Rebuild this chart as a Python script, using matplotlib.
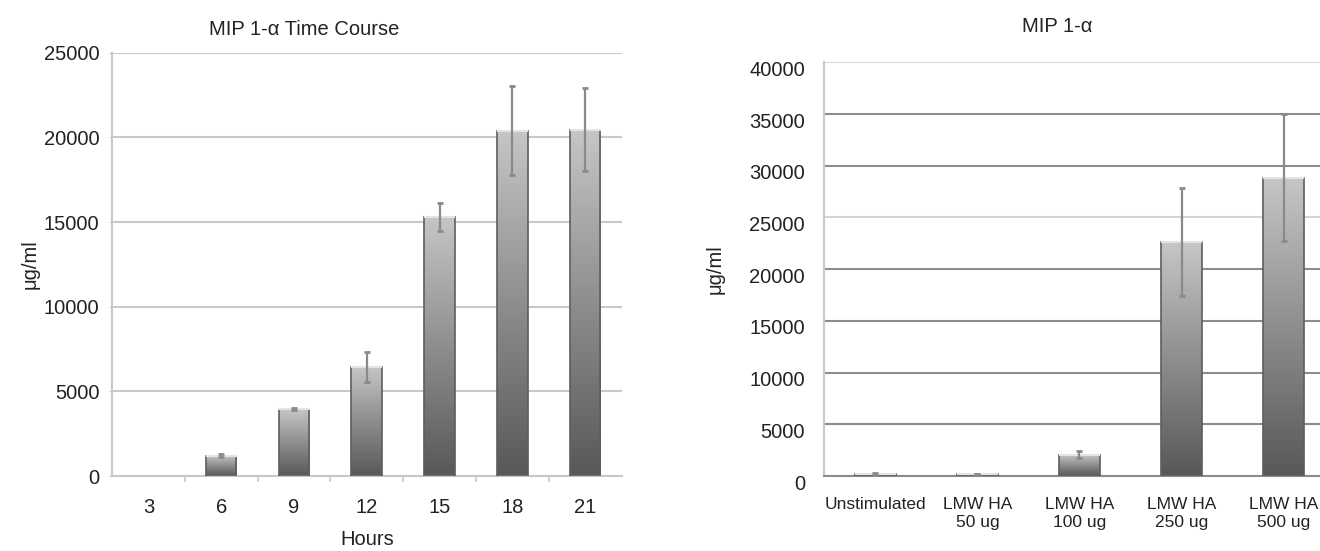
import numpy as np
import matplotlib
matplotlib.use("Agg")
from matplotlib import pyplot as plt
from matplotlib.colors import LinearSegmentedColormap
from matplotlib.transforms import ScaledTranslation

plt.rcParams['font.family'] = ['Liberation Sans', 'DejaVu Sans']

# time course data
hours = ['3', '6', '9', '12', '15', '18', '21']
time_mean = [0, 1200, 3950, 6450, 15300, 20400, 20450]
time_err = [0, 80, 60, 900, 820, 2650, 2450]

# dose data
doses = ['Unstimulated', 'LMW HA\n50 ug', 'LMW HA\n100 ug', 'LMW HA\n250 ug', 'LMW HA\n500 ug']
dose_mean = [200, 180, 2050, 22600, 28850]
dose_err = [50, 30, 350, 5200, 6150]

grad = LinearSegmentedColormap.from_list('bar_grad', ['#58585b', '#8e8e91', '#c6c6c8'])


def gradient_bars(ax, means, errs, width):
    x = np.arange(len(means))
    bars = ax.bar(x, means, width, color='none', edgecolor='#5e5e60', linewidth=1.2, zorder=3)
    g = np.linspace(0, 1, 256).reshape(-1, 1)
    for b in bars:
        h = b.get_height()
        if h <= 0:
            b.set_edgecolor('none')
            continue
        x0 = b.get_x()
        im = ax.imshow(g, extent=[x0, x0 + b.get_width(), 0, h], origin='lower',
                       cmap=grad, aspect='auto', zorder=2, interpolation='bicubic')
        im.set_clip_path(b)
        # light band along the top of the bar
        ax.plot([x0 + 0.01, x0 + b.get_width() - 0.01], [h, h], color='#e4e4e6', lw=1.5, zorder=3)
    keep = [i for i, m in enumerate(means) if m > 0]
    pl, caps, lines = ax.errorbar(x[keep], np.array(means)[keep], yerr=np.array(errs)[keep],
                                  fmt='none', ecolor='#8a8a8c',
                                  elinewidth=1.6, capsize=2.5, capthick=2, zorder=4)
    for c in caps:
        c.set_color('#4a4a4a')
    return x


fig = plt.figure(figsize=(13.2, 5.51), dpi=100)

# ---- left: time course
ax1 = fig.add_axes([0.0848, 0.1361, 0.3861, 0.7683])
x = gradient_bars(ax1, time_mean, time_err, 0.42)
ax1.set_xlim(-0.5, len(hours) - 0.5)
ax1.set_ylim(0, 25000)
ax1.set_yticks(np.arange(0, 25001, 5000))
ax1.set_xticks(x)
ax1.set_xticklabels(hours, fontsize=14.5)
ax1.set_xticks(np.arange(0.5, len(hours) - 0.5, 1), minor=True)
ax1.tick_params(axis='x', which='major', length=0, pad=16, colors='#222222')
ax1.tick_params(axis='x', which='minor', length=4, color='#c8c8c8', width=1.2)
ax1.tick_params(axis='y', length=2, labelsize=14.5, pad=7, colors='#222222')
ax1.tick_params(axis='y', color='#c8c8c8')
ax1.yaxis.grid(True, color='#c8c8c8', lw=1.5)
ax1.set_axisbelow(True)
for s in ['top', 'right']:
    ax1.spines[s].set_visible(False)
for s in ['left', 'bottom']:
    ax1.spines[s].set_color('#c8c8c8')
    ax1.spines[s].set_linewidth(1.5)
ax1.set_title('MIP 1-α Time Course', fontsize=14.5, x=0.378, pad=13, color='#222222')
ax1.set_xlabel('Hours', fontsize=14.5, labelpad=9, color='#222222')
ax1.set_ylabel('μg/ml', fontsize=14.5, color='#222222')
ax1.yaxis.set_label_coords(-0.141, 0.5)

# ---- right: dose response
ax2 = fig.add_axes([0.6246, 0.1361, 0.3864, 0.7508])
x = gradient_bars(ax2, dose_mean, dose_err, 0.40)
ax2.set_xlim(-0.5, len(doses) - 0.5)
ax2.set_ylim(0, 40000)
ax2.set_yticks(np.arange(0, 40001, 5000))
ax2.set_xticks(x)
ax2.set_xticklabels(doses, fontsize=12.5, color='#222222', linespacing=1.3)
ax2.tick_params(axis='x', length=0, pad=15)
ax2.tick_params(axis='y', length=0, labelsize=14.5, pad=14, colors='#222222')
ax2.yaxis.grid(True, color='#8c8c8e', lw=1.5)
gl = ax2.get_ygridlines()
gl[5].set_color('#d4d4d6')
gl[8].set_color('#d4d4d6')
ax2.set_axisbelow(True)
for s in ['top', 'right']:
    ax2.spines[s].set_visible(False)
ax2.spines['left'].set_color('#c8c8c8')
ax2.spines['left'].set_linewidth(1.5)
ax2.spines['bottom'].set_color('#8c8c8e')
ax2.spines['bottom'].set_linewidth(1.5)
shift = ScaledTranslation(0, -6 / 100, fig.dpi_scale_trans)
for lab in ax2.get_yticklabels():
    lab.set_transform(lab.get_transform() + shift)
ax2.set_title('MIP 1-α', fontsize=14.5, x=0.456, pad=22, color='#222222')
ax2.set_ylabel('μg/ml', fontsize=14.5, color='#222222')
ax2.yaxis.set_label_coords(-0.195, 0.5)

fig.savefig('out.png', dpi=100)
